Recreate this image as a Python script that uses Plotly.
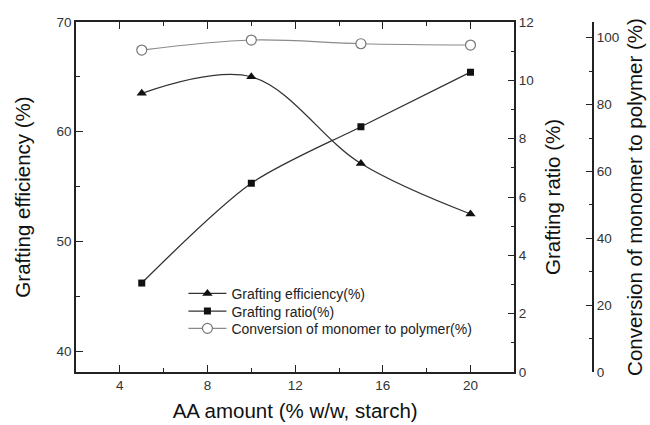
import plotly.graph_objects as go

aa_amount = [5, 10, 15, 20]
grafting_efficiency = [63.5, 65.0, 57.1, 52.5]
grafting_ratio = [3.05, 6.47, 8.41, 10.28]
conversion = [96.3, 99.3, 98.2, 97.8]

FONT = "Liberation Sans, Arial, sans-serif"
AX = "#222222"
TXT = "#333333"

fig = go.Figure()
fig.add_trace(go.Scatter(
    x=aa_amount, y=grafting_efficiency, name="Grafting efficiency(%)",
    mode="lines+markers", line=dict(color="#333333", width=1.3, shape="spline", smoothing=1.0),
    marker=dict(symbol="triangle-up", size=9, color="#111111"), yaxis="y", legend="legend"))
fig.add_trace(go.Scatter(
    x=aa_amount, y=grafting_ratio, name="Grafting ratio(%)",
    mode="lines+markers", line=dict(color="#333333", width=1.3, shape="spline", smoothing=0.8),
    marker=dict(symbol="square", size=7, color="#111111"), yaxis="y2", legend="legend2"))
fig.add_trace(go.Scatter(
    x=aa_amount, y=conversion, name="Conversion of monomer to polymer(%)",
    mode="lines+markers", line=dict(color="#8a8a8a", width=1.1, shape="spline", smoothing=1.0),
    marker=dict(symbol="circle", size=10, color="white", line=dict(color="#777777", width=1.2)),
    yaxis="y3", legend="legend3"))

tick_font = dict(family=FONT, size=13.5, color=TXT)
title_font = dict(family=FONT, size=20.5, color="#111111")

common = dict(showline=True, linecolor=AX, linewidth=1.5, ticks="inside", ticklen=7,
              tickcolor=AX, tickwidth=1.3, showgrid=False, zeroline=False, tickfont=tick_font,
              automargin=False)

leg_common = dict(x=0.205, xanchor="left", yanchor="top", bgcolor="rgba(0,0,0,0)",
                  font=dict(family=FONT, size=14, color="#222222"), itemwidth=38)

fig.update_layout(
    width=650, height=425,
    margin=dict(l=76, r=50, t=22, b=53, autoexpand=False),
    paper_bgcolor="white", plot_bgcolor="white",
    font=dict(family=FONT, color=TXT),
    xaxis=dict(domain=[0, 0.8365], range=[2, 22], dtick=4, tick0=0, mirror="ticks",
               minor=dict(ticks="inside", ticklen=4, dtick=2, tickcolor=AX),
               title=dict(text="AA amount (% w/w, starch)", font=title_font, standoff=12),
               **common),
    yaxis=dict(range=[38.1, 70], dtick=10, tick0=0,
               minor=dict(ticks="inside", ticklen=4, dtick=5, tickcolor=AX),
               title=dict(text="Grafting efficiency (%)", font=title_font, standoff=20),
               **common),
    yaxis2=dict(range=[0, 12], dtick=2, tick0=0, overlaying="y", side="right", anchor="x",
                minor=dict(ticks="inside", ticklen=4, dtick=1, tickcolor=AX),
                title=dict(text="Grafting ratio (%)", font=title_font, standoff=13),
                **common),
    yaxis3=dict(range=[0, 104.7], dtick=20, tick0=0, overlaying="y", side="right",
                anchor="free", position=0.9872,
                minor=dict(ticks="inside", ticklen=4, dtick=10, tickcolor=AX),
                title=dict(text="Conversion of monomer to polymer (%)", font=title_font, standoff=8),
                **common),
    legend=dict(y=0.2692, **leg_common),
    legend2=dict(y=0.2187, **leg_common),
    legend3=dict(y=0.1693, **leg_common),
    showlegend=True,
)

fig.write_html("out.html")
